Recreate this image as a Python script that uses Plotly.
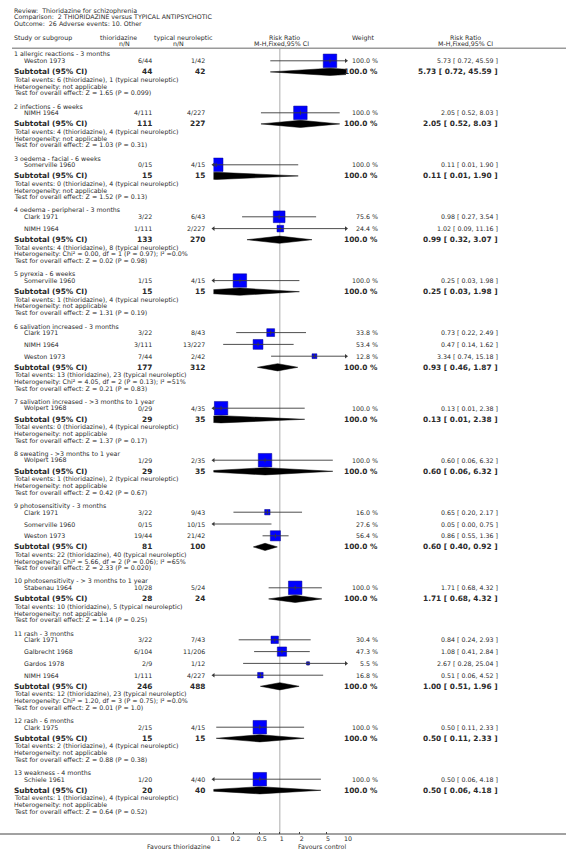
import plotly.graph_objects as go

W, H = 566, 864

# ---------------- data ----------------
group_titles = [
    "1 allergic reactions - 3 months",
    "2 infections - 6 weeks",
    "3 oedema - facial - 6 weeks",
    "4 oedema - peripheral - 3 months",
    "5 pyrexia - 6 weeks",
    "6 salivation increased - 3 months",
    "7 salivation increased - >3 months to 1 year",
    "8 sweating - >3 months to 1 year",
    "9 photosensitivity - 3 months",
    "10 photosensitivity - > 3 months to 1 year",
    "11 rash - 3 months",
    "12 rash - 6 months",
    "13 weakness - 4 months",
]
study_group = [0, 1, 2, 3, 3, 4, 5, 5, 5, 6, 7, 8, 8, 8, 9, 10, 10, 10, 10, 11, 12]
study_names = ["Weston 1973", "NIMH 1964", "Somerville 1960", "Clark 1971", "NIMH 1964",
               "Somerville 1960", "Clark 1971", "NIMH 1964", "Weston 1973", "Wolpert 1968",
               "Wolpert 1968", "Clark 1971", "Somerville 1960", "Weston 1973", "Stabenau 1964",
               "Clark 1971", "Galbrecht 1968", "Gardos 1978", "NIMH 1964", "Clark 1975",
               "Schiele 1961"]
thio_events = [6, 4, 0, 3, 1, 1, 3, 3, 7, 0, 1, 3, 0, 19, 10, 3, 6, 2, 1, 2, 1]
thio_total = [44, 111, 15, 22, 111, 15, 22, 111, 44, 29, 29, 22, 15, 44, 28, 22, 104, 9, 111, 15, 20]
typ_events = [1, 4, 4, 6, 2, 4, 8, 13, 2, 4, 2, 9, 10, 21, 5, 7, 11, 1, 4, 4, 4]
typ_total = [42, 227, 15, 43, 227, 15, 43, 227, 42, 35, 35, 43, 15, 42, 24, 43, 206, 12, 227, 15, 40]
study_weight = [100.0, 100.0, 100.0, 75.6, 24.4, 100.0, 33.8, 53.4, 12.8, 100.0, 100.0,
                16.0, 27.6, 56.4, 100.0, 30.4, 47.3, 5.5, 16.8, 100.0, 100.0]
study_rr = [5.73, 2.05, 0.11, 0.98, 1.02, 0.25, 0.73, 0.47, 3.34, 0.13, 0.60,
            0.65, 0.05, 0.86, 1.71, 0.84, 1.08, 2.67, 0.51, 0.50, 0.50]
study_lo = [0.72, 0.52, 0.01, 0.27, 0.09, 0.03, 0.22, 0.14, 0.74, 0.01, 0.06,
            0.20, 0.00, 0.55, 0.68, 0.24, 0.41, 0.28, 0.06, 0.11, 0.06]
study_hi = [45.59, 8.03, 1.90, 3.54, 11.16, 1.98, 2.49, 1.62, 15.18, 2.38, 6.32,
            2.17, 0.75, 1.36, 4.32, 2.93, 2.84, 25.04, 4.52, 2.33, 4.18]

sub_thio_total = [44, 111, 15, 133, 15, 177, 29, 29, 81, 28, 246, 15, 20]
sub_typ_total = [42, 227, 15, 270, 15, 312, 35, 35, 100, 24, 488, 15, 40]
sub_thio_events = [6, 4, 0, 4, 1, 13, 0, 1, 22, 10, 12, 2, 1]
sub_typ_events = [1, 4, 4, 8, 4, 23, 4, 2, 40, 5, 23, 4, 4]
sub_rr = [5.73, 2.05, 0.11, 0.99, 0.25, 0.93, 0.13, 0.60, 0.60, 1.71, 1.00, 0.50, 0.50]
sub_lo = [0.72, 0.52, 0.01, 0.32, 0.03, 0.46, 0.01, 0.06, 0.40, 0.68, 0.51, 0.11, 0.06]
sub_hi = [45.59, 8.03, 1.90, 3.07, 1.98, 1.87, 2.38, 6.32, 0.92, 4.32, 1.96, 2.33, 4.18]
heterogeneity = [
    "not applicable", "not applicable", "not applicable",
    "Chi² = 0.00, df = 1 (P = 0.97); I² =0.0%",
    "not applicable",
    "Chi² = 4.05, df = 2 (P = 0.13); I² =51%",
    "not applicable", "not applicable",
    "Chi² = 5.66, df = 2 (P = 0.06); I² =65%",
    "not applicable",
    "Chi² = 1.20, df = 3 (P = 0.75); I² =0.0%",
    "not applicable", "not applicable",
]
overall_z = ["Z = 1.65 (P = 0.099)", "Z = 1.03 (P = 0.31)", "Z = 1.52 (P = 0.13)",
             "Z = 0.02 (P = 0.98)", "Z = 1.31 (P = 0.19)", "Z = 0.21 (P = 0.83)",
             "Z = 1.37 (P = 0.17)", "Z = 0.42 (P = 0.67)", "Z = 2.33 (P = 0.020)",
             "Z = 1.14 (P = 0.25)", "Z = 0.01 (P = 1.0)", "Z = 0.88 (P = 0.38)",
             "Z = 0.64 (P = 0.52)"]
tick_vals = [0.1, 0.2, 0.5, 1, 2, 5, 10]
tick_text = ["0.1", "0.2", "0.5", "1", "2", "5", "10"]

# ---------------- layout constants ----------------
FONT = "DejaVu Sans"
TXT = "#2a2a2a"
FS = 6.3
FSB = 7.4
XMIN, XMAX = 0.1, 10.0
PLOT_L, PLOT_R = 213.5, 346.0
TOP_LINE = 48.3
AXIS_Y = 834.0

X_GROUP = 13
X_STUDY = 23
X_C1 = 153
X_C2 = 206
X_W = 379
X_RR = 499

ann = []


def txt(x, y, s, anchor="left", size=FS, bold=False, color=TXT):
    ann.append(dict(x=x / W, xref="paper", y=y, yref="y",
                    text=("<b>%s</b>" % s) if bold else s,
                    xanchor=anchor, yanchor="middle", showarrow=False,
                    borderpad=0, font=dict(family=FONT, size=size, color=color)))


def rr_text(r, lo, hi):
    return "%.2f [ %.2f, %.2f ]" % (r, lo, hi)


# header
txt(13, 11, "Review:  Thioridazine for schizophrenia")
txt(13, 17.4, "Comparison:  2 THIORIDAZINE versus TYPICAL ANTIPSYCHOTIC")
txt(13, 23.8, "Outcome:  26 Adverse events: 10. Other")
txt(13, 37.7, "Study or subgroup")
txt(118, 37.7, "thioridazine", anchor="center")
txt(124, 43.3, "n/N", anchor="center")
txt(183, 37.7, "typical neuroleptic", anchor="center")
txt(178, 43.3, "n/N", anchor="center")
txt(284, 37.7, "Risk Ratio", anchor="center")
txt(281, 43.3, "M-H,Fixed,95% CI", anchor="center")
txt(363, 37.7, "Weight", anchor="center")
txt(465, 37.7, "Risk Ratio", anchor="center")
txt(465, 43.3, "M-H,Fixed,95% CI", anchor="center")
txt(212, 846, "Favours thioridazine", anchor="right")
txt(297, 846, "Favours control", anchor="left")

# ---------------- rows ----------------
study_y = [None] * len(study_names)
sub_y = []
y = 54.3
for g, title in enumerate(group_titles):
    txt(X_GROUP, y, title)
    sy = y + 6.5
    last = sy
    for i, gi in enumerate(study_group):
        if gi != g:
            continue
        study_y[i] = sy
        last = sy
        txt(X_STUDY, sy, study_names[i])
        txt(X_C1, sy, "%d/%d" % (thio_events[i], thio_total[i]), anchor="right")
        txt(X_C2, sy, "%d/%d" % (typ_events[i], typ_total[i]), anchor="right")
        txt(X_W, sy, "%.1f %%" % study_weight[i], anchor="right")
        txt(X_RR, sy, rr_text(study_rr[i], study_lo[i], study_hi[i]), anchor="right")
        sy += 11.8
    ys = last + 11.1
    sub_y.append(ys)
    txt(X_GROUP, ys, "Subtotal (95% CI)", size=FSB, bold=True)
    txt(X_C1, ys, str(sub_thio_total[g]), anchor="right", size=FSB, bold=True)
    txt(X_C2, ys, str(sub_typ_total[g]), anchor="right", size=FSB, bold=True)
    txt(X_W, ys, "100.0 %", anchor="right", size=FSB, bold=True)
    txt(X_RR, ys, rr_text(sub_rr[g], sub_lo[g], sub_hi[g]), anchor="right", size=FSB, bold=True)
    t1 = ys + 8.0
    t2 = t1 + 6.6
    t3 = t2 + 6.4
    txt(X_GROUP, t1, "Total events: %d (thioridazine), %d (typical neuroleptic)"
        % (sub_thio_events[g], sub_typ_events[g]))
    txt(X_GROUP, t2, "Heterogeneity: " + heterogeneity[g])
    txt(X_GROUP, t3, "Test for overall effect: " + overall_z[g])
    y = t3 + 13.4

# ---------------- traces ----------------
fig = go.Figure()

# line of no effect
fig.add_trace(go.Scatter(x=[1, 1], y=[TOP_LINE, AXIS_Y], mode="lines",
                         line=dict(color="#c8c8c8", width=1.5), hoverinfo="skip"))

# diamonds
for g in range(len(group_titles)):
    yy = sub_y[g]
    fig.add_trace(go.Scatter(
        x=[sub_lo[g], sub_rr[g], sub_hi[g], sub_rr[g], sub_lo[g]],
        y=[yy, yy - 3.6, yy, yy + 3.6, yy],
        mode="lines", fill="toself", fillcolor="black",
        line=dict(color="black", width=0.5), hoverinfo="skip"))

# squares
sizes = [max(3.0, 13.5 * (w / 100.0) ** 0.5) for w in study_weight]
fig.add_trace(go.Scatter(x=study_rr, y=study_y, mode="markers",
                         marker=dict(symbol="square", size=sizes, color="#0000ff", opacity=1,
                                     line=dict(color="#00008b", width=0.5)),
                         hoverinfo="skip"))

# CI lines
cx, cy = [], []
la_x, la_y, ra_x, ra_y = [], [], [], []
for i in range(len(study_names)):
    lo = max(study_lo[i], XMIN)
    hi = min(study_hi[i], XMAX)
    cx += [lo, hi, None]
    cy += [study_y[i], study_y[i], None]
    if study_lo[i] < XMIN:
        la_x.append(XMIN)
        la_y.append(study_y[i])
    if study_hi[i] > XMAX:
        ra_x.append(XMAX)
        ra_y.append(study_y[i])
fig.add_trace(go.Scatter(x=cx, y=cy, mode="lines", line=dict(color="#3a3a3a", width=0.9),
                         hoverinfo="skip"))
# estimate tick
fig.add_trace(go.Scatter(x=study_rr, y=study_y, mode="markers",
                         marker=dict(symbol="line-ns", size=3, opacity=1,
                                     line=dict(color="#3a3a3a", width=0.9)),
                         hoverinfo="skip"))
# arrows
fig.add_trace(go.Scatter(x=la_x, y=la_y, mode="markers", cliponaxis=False,
                         marker=dict(symbol="triangle-left", size=4, color="#3a3a3a", opacity=1),
                         hoverinfo="skip"))
fig.add_trace(go.Scatter(x=ra_x, y=ra_y, mode="markers", cliponaxis=False,
                         marker=dict(symbol="triangle-right", size=4, color="#3a3a3a", opacity=1),
                         hoverinfo="skip"))

shapes = [
    dict(type="line", xref="paper", yref="y", x0=12 / W, x1=1, y0=TOP_LINE, y1=TOP_LINE,
         line=dict(color="#9a9a9a", width=1.5)),
    dict(type="line", xref="paper", yref="y", x0=0, x1=1, y0=AXIS_Y, y1=AXIS_Y,
         line=dict(color="#444444", width=1)),
]

fig.update_layout(
    width=W, height=H, margin=dict(l=0, r=0, t=0, b=0, autoexpand=False),
    paper_bgcolor="white", plot_bgcolor="rgba(0,0,0,0)",
    showlegend=False, annotations=ann, shapes=shapes, hovermode=False,
    xaxis=dict(type="log", range=[-1, 1], domain=[PLOT_L / W, PLOT_R / W],
               anchor="free", position=1 - AXIS_Y / H,
               showgrid=False, zeroline=False, showline=False,
               ticks="inside", ticklen=2, tickcolor="#444444", tickwidth=1,
               tickvals=tick_vals, ticktext=tick_text, ticklabelshift=2,
               tickfont=dict(family=FONT, size=FS, color=TXT), fixedrange=True),
    yaxis=dict(range=[H, 0], domain=[0, 1], visible=False, fixedrange=True),
)

fig.write_html("out.html",
               config={"displayModeBar": False, "staticPlot": True},
               post_script="document.body.style.margin='0px';"
                           "document.body.style.overflow='hidden';")
